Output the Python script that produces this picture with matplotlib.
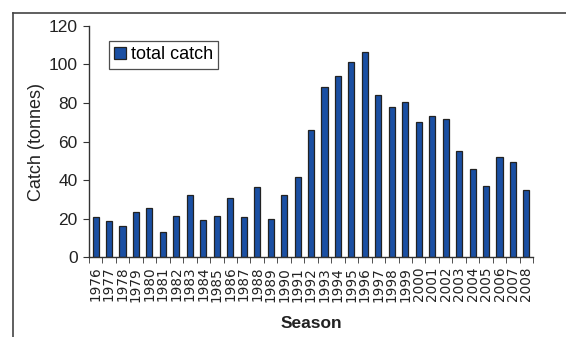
import matplotlib.pyplot as plt
from matplotlib.lines import Line2D
import numpy as np

plt.rcParams['font.family'] = ['Liberation Sans', 'DejaVu Sans']

seasons = [str(y) for y in range(1976, 2009)]
catch = [21, 19, 16, 23.5, 25.5, 13, 21.5, 32.5, 19.5, 21.5, 30.5, 21, 36.5, 20, 32.5, 41.5,
         66, 88.5, 94, 101.5, 106.5, 84, 78, 80.5, 70, 73, 71.5, 55, 45.5, 37, 52, 49.5, 35]

fig = plt.figure(figsize=(5.66, 3.37), dpi=100)
ax = fig.add_axes([0.157, 0.237, 0.785, 0.686])

x = np.arange(len(seasons))
ax.bar(x, catch, width=0.45, color='#1a4fa3', edgecolor='#222222', linewidth=0.9,
       label='total catch')

ax.set_xlim(-0.5, len(seasons) - 0.5)
ax.set_ylim(0, 120)
ax.set_yticks(range(0, 121, 20))
ax.set_xticks(x)
ax.set_xticklabels(seasons, rotation=90, fontsize=9.8, color='#222222',
                   family='DejaVu Sans')
ax.set_xticks(np.arange(-0.5, len(seasons)), minor=True)
ax.tick_params(axis='x', which='major', length=0, pad=7)
ax.tick_params(axis='x', which='minor', length=4, direction='out', color='#333333')
ax.tick_params(axis='y', length=4, pad=4, labelsize=12.5, color='#333333',
               labelcolor='#222222')

for s in ['top', 'right']:
    ax.spines[s].set_visible(False)
for s in ['left', 'bottom']:
    ax.spines[s].set_color('#333333')
    ax.spines[s].set_linewidth(1.0)

ax.set_ylabel('Catch (tonnes)', fontsize=13, color='#222222', labelpad=3)
ax.set_xlabel('Season', fontsize=12.5, fontweight='bold', color='#222222', labelpad=10)

leg = ax.legend(loc='upper left', bbox_to_anchor=(0.045, 0.935), fontsize=13,
                frameon=True, fancybox=False, handlelength=0.65, handleheight=0.65,
                handletextpad=0.25, borderpad=0.3, borderaxespad=0)
leg.get_frame().set_edgecolor('#222222')
leg.get_frame().set_linewidth(0.9)

# outer frame (top and left edges visible)
fig.add_artist(Line2D([13 / 566, 13 / 566], [0, 1 - 12.5 / 337], color='#444444', lw=1.2))
fig.add_artist(Line2D([13 / 566, 1], [1 - 12.5 / 337, 1 - 12.5 / 337], color='#444444', lw=1.2))

fig.savefig('out.png', dpi=100)
